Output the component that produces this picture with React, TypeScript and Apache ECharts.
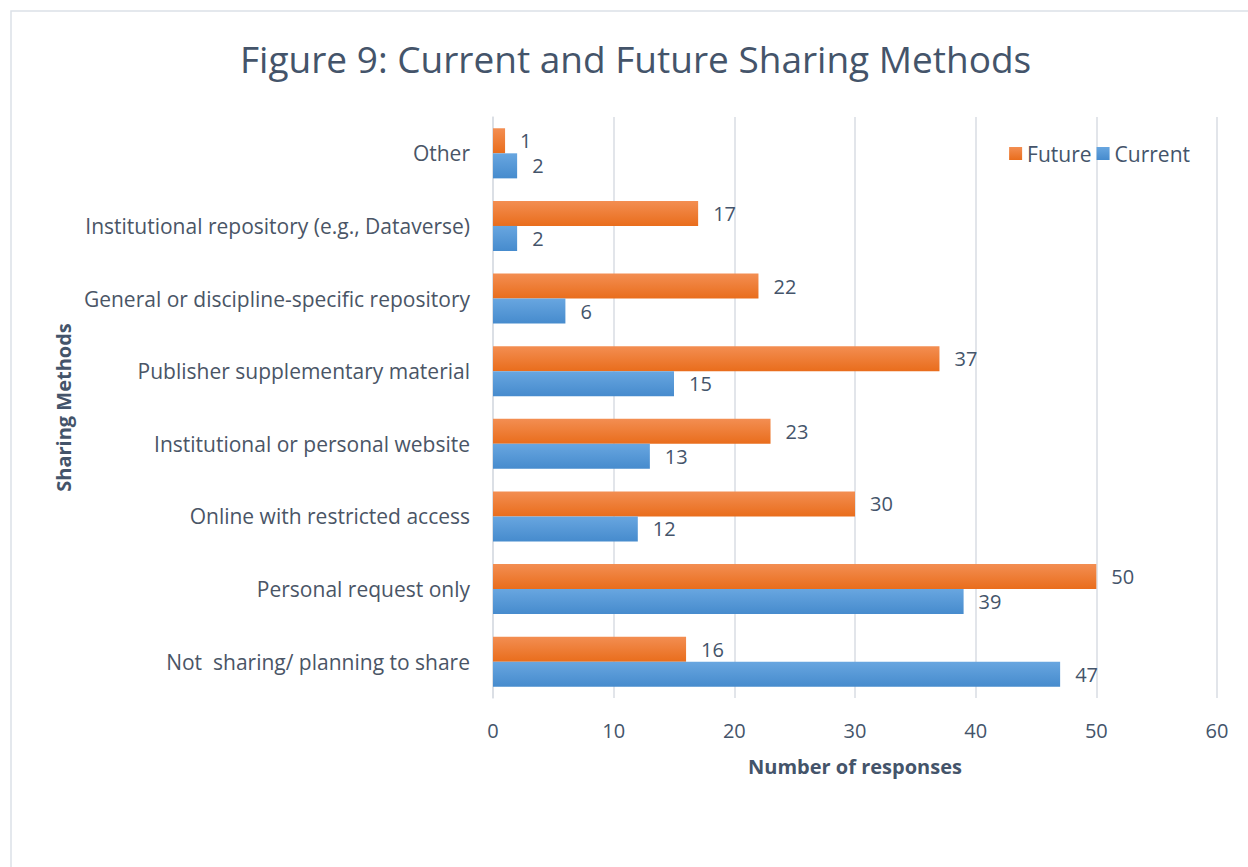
import React, { useEffect, useRef } from "react";
import * as echarts from "echarts";

const categories = [
  "Not  sharing/ planning to share",
  "Personal request only",
  "Online with restricted access",
  "Institutional or personal website",
  "Publisher supplementary material",
  "General or discipline-specific repository",
  "Institutional repository (e.g., Dataverse)",
  "Other",
];
const currentValues = [47, 39, 12, 13, 15, 6, 2, 2];
const futureValues = [16, 50, 30, 23, 37, 22, 17, 1];
const xTicks = { min: 0, max: 60, interval: 10 };

const FONT = "'Open Sans', 'Noto Sans', sans-serif";
const TEXT = "#4A5566";
const SLATE = "#44546A";

export default function App() {
  const ref = useRef<HTMLDivElement>(null);
  useEffect(() => {
    const chart = echarts.init(ref.current!, null, { renderer: "svg" });
    const orange = new echarts.graphic.LinearGradient(0, 0, 0, 1, [
      { offset: 0, color: "#F38E52" },
      { offset: 1, color: "#E96D1C" },
    ]);
    const blue = new echarts.graphic.LinearGradient(0, 0, 0, 1, [
      { offset: 0, color: "#68A6E0" },
      { offset: 1, color: "#468BCD" },
    ]);
    const label = {
      show: true,
      position: "right" as const,
      distance: 15,
      color: SLATE,
      fontSize: 20,
      fontFamily: FONT,
    };
    chart.setOption({
      animation: false,
      textStyle: { fontFamily: FONT },
      graphic: [
        {
          type: "rect",
          shape: { x: 11, y: 11, width: 1300, height: 950 },
          style: { fill: "none", stroke: "#DCE1E8", lineWidth: 1.5 },
          silent: true,
        },
      ],
      title: {
        text: "Figure 9: Current and Future Sharing Methods",
        left: 235,
        top: 35,
        textStyle: {
          fontFamily: FONT,
          fontSize: 37,
          fontWeight: "normal",
          color: SLATE,
        },
      },
      legend: {
        data: ["Future", "Current"],
        right: 53,
        top: 138,
        itemWidth: 13,
        itemHeight: 13,
        itemGap: 5,
        icon: "rect",
        textStyle: { fontFamily: FONT, fontSize: 21, color: SLATE },
      },
      grid: { left: 493, right: 31, top: 117, bottom: 169, containLabel: false },
      xAxis: {
        type: "value",
        min: xTicks.min,
        max: xTicks.max,
        interval: xTicks.interval,
        name: "Number of responses",
        nameLocation: "middle",
        nameGap: 58,
        nameTextStyle: { fontFamily: FONT, fontSize: 20, fontWeight: "bold", color: SLATE },
        axisLine: { show: false },
        axisTick: { show: false },
        axisLabel: { fontFamily: FONT, fontSize: 20, color: SLATE, margin: 22 },
        splitLine: { show: true, lineStyle: { color: "#D9DDE3", width: 1.5 } },
      },
      yAxis: {
        type: "category",
        data: categories,
        name: "Sharing Methods",
        nameLocation: "middle",
        nameGap: 420,
        nameRotate: 90,
        nameTextStyle: { fontFamily: FONT, fontSize: 20, fontWeight: "bold", color: SLATE },
        axisLine: { show: true, lineStyle: { color: "#D9DDE3", width: 1.5 } },
        axisTick: { show: false },
        axisLabel: { fontFamily: FONT, fontSize: 21, color: TEXT, margin: 23 },
      },
      series: [
        {
          name: "Future",
          type: "bar",
          data: futureValues,
          barGap: "0%",
          barCategoryGap: "31%",
          itemStyle: { color: orange },
          label,
        },
        {
          name: "Current",
          type: "bar",
          data: currentValues,
          barGap: "0%",
          barCategoryGap: "31%",
          itemStyle: { color: blue },
          label,
        },
      ],
    });
    return () => chart.dispose();
  }, []);
  return (
    <div
      ref={ref}
      style={{ position: "absolute", left: 0, top: 0, width: 1248, height: 867, background: "#fff" }}
    />
  );
}
